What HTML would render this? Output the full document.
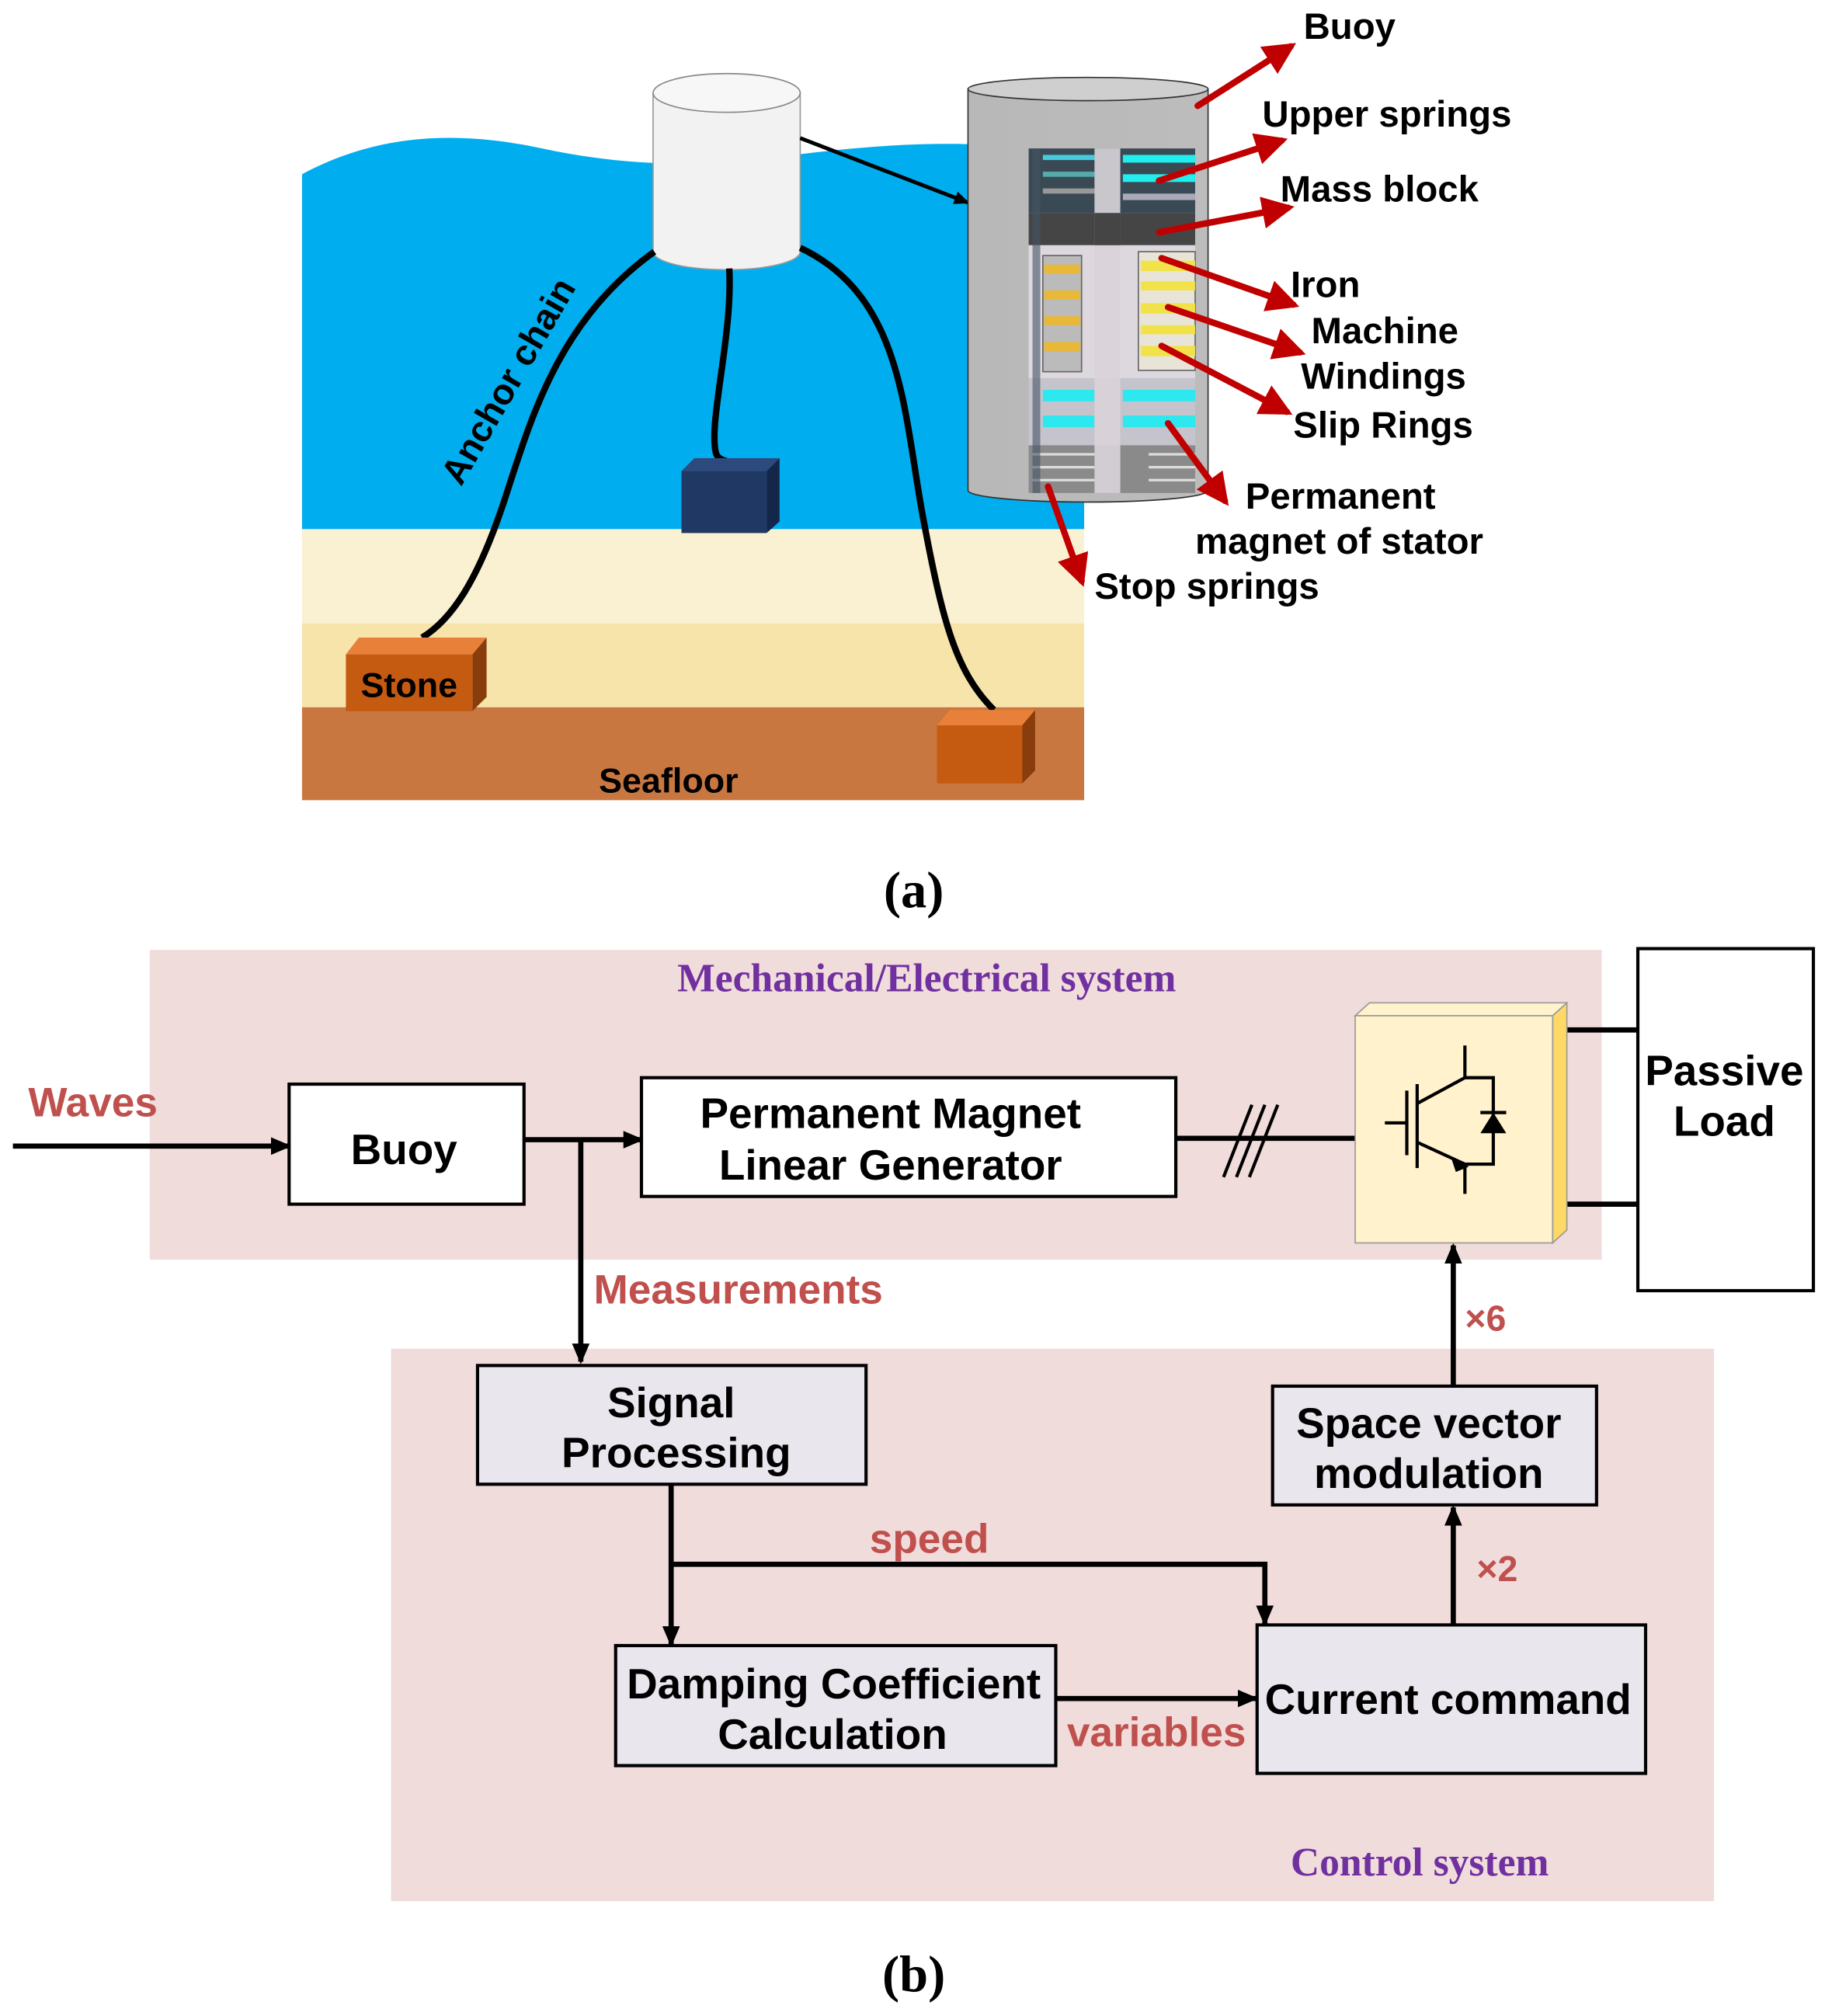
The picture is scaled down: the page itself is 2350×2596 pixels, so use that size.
<!DOCTYPE html>
<html><head><meta charset="utf-8"><style>
html,body{margin:0;padding:0;background:#fff;}
svg{display:block;}
text{font-family:"Liberation Sans",sans-serif;font-weight:bold;}
.s{font-family:"Liberation Serif",serif;}
</style></head><body>
<svg width="2350" height="2596" viewBox="0 0 1414 1562" preserveAspectRatio="none" xmlns="http://www.w3.org/2000/svg">
<defs>
<marker id="ra" markerWidth="5" markerHeight="5" refX="4" refY="2.5" orient="auto" markerUnits="strokeWidth"><path d="M0,0 L5,2.5 L0,5 Z" fill="#C00000"/></marker>
<marker id="ka" markerWidth="4" markerHeight="4" refX="3.5" refY="2" orient="auto" markerUnits="strokeWidth"><path d="M0,0.3 L4,2 L0,3.7 Z" fill="#000"/></marker>
<linearGradient id="cyl" x1="0" x2="1"><stop offset="0" stop-color="#b8b8b8"/><stop offset="1" stop-color="#bcbcbc"/></linearGradient>
</defs>
<!-- Part (a) -->
<path d="M234,135 C290,105 350,100 420,115 C480,128 540,130 600,122 C660,114 710,110 760,112 L840,112 L840,410 L234,410 Z" fill="#00AEEF"/>
<rect x="234" y="410" width="606" height="73" fill="#FAF0D2"/>
<rect x="234" y="483" width="606" height="65" fill="#F6E4AA"/>
<rect x="234" y="548" width="606" height="72" fill="#C87741"/>
<path d="M506,72 L506,195 A57,14 0 0 0 620,195 L620,72 Z" fill="#F2F2F2" stroke="#999" stroke-width="1"/>
<ellipse cx="563" cy="72" rx="57" ry="15" fill="#F7F7F7" stroke="#888" stroke-width="1"/>
<path d="M507,195 C430,250 410,330 390,390 C370,450 350,480 327,494" fill="none" stroke="#000" stroke-width="5"/>
<path d="M565,208 C568,260 548,330 555,352 C558,358 566,358 574,358" fill="none" stroke="#000" stroke-width="5"/>
<path d="M620,192 C700,230 700,320 715,400 C730,480 740,520 770,550" fill="none" stroke="#000" stroke-width="5"/>
<polygon points="528,365 538,355 604,355 594,365" fill="#2E4A7D"/>
<polygon points="594,365 604,355 604,404 594,413" fill="#14264A"/>
<rect x="528" y="365" width="66" height="48" fill="#1F3864"/>
<polygon points="268,507 278,494 377,494 366,507" fill="#E9803A"/>
<polygon points="366,507 377,494 377,540 366,551" fill="#8A3D0C"/>
<rect x="268" y="507" width="98" height="44" fill="#C55A11"/>
<polygon points="726,562 736,550 802,550 792,562" fill="#E9803A"/>
<polygon points="792,562 802,550 802,597 792,607" fill="#8A3D0C"/>
<rect x="726" y="562" width="66" height="45" fill="#C55A11"/>
<text x="317" y="540" font-size="27" text-anchor="middle">Stone</text>
<text x="518" y="614" font-size="27" text-anchor="middle">Seafloor</text>
<text x="0" y="0" font-size="28" transform="translate(402,300) rotate(-60)" text-anchor="middle">Anchor chain</text>
<line x1="620" y1="107" x2="750" y2="157" stroke="#000" stroke-width="3" marker-end="url(#ka)"/>
<path d="M750,69 L750,380 A93,9 0 0 0 936,380 L936,69 Z" fill="url(#cyl)" stroke="#333" stroke-width="1"/>
<ellipse cx="843" cy="69" rx="93" ry="9" fill="#cfcfcf" stroke="#333" stroke-width="1"/>
<g>
<rect x="797" y="115" width="129" height="267" fill="#cfcbd2"/>
<rect x="797" y="115" width="129" height="50" fill="#3a4a55"/>
<rect x="808" y="120" width="40" height="4" fill="#4cd"/><rect x="870" y="120" width="56" height="6" fill="#2ee"/>
<rect x="808" y="133" width="40" height="4" fill="#5aa"/><rect x="870" y="135" width="56" height="6" fill="#2ee"/>
<rect x="808" y="146" width="40" height="4" fill="#999"/><rect x="870" y="150" width="56" height="5" fill="#aab"/>
<rect x="797" y="165" width="129" height="25" fill="#454545"/>
<rect x="797" y="190" width="129" height="103" fill="#ddd8dd"/>
<rect x="808" y="198" width="30" height="90" fill="#bbb" stroke="#666" stroke-width="1"/>
<rect x="882" y="195" width="44" height="92" fill="#e8e4d8" stroke="#666" stroke-width="1"/>
<g fill="#E8B838"><rect x="809" y="205" width="28" height="7"/><rect x="809" y="225" width="28" height="7"/><rect x="809" y="245" width="28" height="7"/><rect x="809" y="265" width="28" height="7"/></g>
<g fill="#F2E24A"><rect x="884" y="202" width="42" height="8"/><rect x="884" y="218" width="42" height="7"/><rect x="884" y="235" width="42" height="8"/><rect x="884" y="252" width="42" height="7"/><rect x="884" y="268" width="42" height="8"/></g>
<rect x="797" y="293" width="129" height="52" fill="#c5c3cc"/>
<g fill="#2EE8F0"><rect x="808" y="302" width="40" height="9"/><rect x="870" y="302" width="56" height="9"/><rect x="808" y="322" width="40" height="9"/><rect x="870" y="322" width="56" height="9"/></g>
<rect x="797" y="345" width="129" height="37" fill="#8a8a8a"/>
<g stroke="#ddd" stroke-width="2"><line x1="800" y1="352" x2="848" y2="352"/><line x1="800" y1="362" x2="848" y2="362"/><line x1="800" y1="372" x2="848" y2="372"/><line x1="890" y1="352" x2="926" y2="352"/><line x1="890" y1="362" x2="926" y2="362"/><line x1="890" y1="372" x2="926" y2="372"/></g>
<rect x="848" y="115" width="20" height="267" fill="#d9d4d9" opacity="0.9"/>
<rect x="848" y="165" width="20" height="25" fill="#454545"/>
<rect x="800" y="115" width="6" height="267" fill="#456" opacity="0.6"/>
</g>
<g stroke="#C00000" stroke-width="5" stroke-linecap="round" marker-end="url(#ra)">
<line x1="928" y1="82" x2="1000" y2="36"/>
<line x1="898" y1="140" x2="993" y2="109"/>
<line x1="898" y1="180" x2="998" y2="161"/>
<line x1="900" y1="200" x2="1002" y2="236"/>
<line x1="905" y1="238" x2="1007" y2="273"/>
<line x1="900" y1="268" x2="997" y2="319"/>
<line x1="905" y1="328" x2="949" y2="388"/>
<line x1="812" y1="377" x2="838" y2="450"/>
</g>
<g font-size="28.5">
<text x="1010" y="30">Buoy</text>
<text x="978" y="98">Upper springs</text>
<text x="992" y="156">Mass block</text>
<text x="1000" y="230">Iron</text>
<text x="1016" y="266">Machine</text>
<text x="1008" y="301">Windings</text>
<text x="1002" y="339">Slip Rings</text>
<text x="965" y="394">Permanent</text>
<text x="926" y="429">magnet of stator</text>
<text x="848" y="464">Stop springs</text>
</g>
<text class="s" x="708" y="703" font-size="40" text-anchor="middle">(a)</text>
<!-- Part (b) -->
<rect x="116" y="736" width="1125" height="240" fill="#F0DCDA"/>
<rect x="303" y="1045" width="1025" height="428" fill="#F0DCDA"/>
<text class="s" x="718" y="768" font-size="31" fill="#7030A0" text-anchor="middle">Mechanical/Electrical system</text>
<text class="s" x="1100" y="1453" font-size="31" fill="#7030A0" text-anchor="middle">Control system</text>
<g fill="#C0504D" font-size="32">
<text x="72" y="865" text-anchor="middle">Waves</text>
<text x="460" y="1010">Measurements</text>
<text x="720" y="1203" text-anchor="middle">speed</text>
<text x="896" y="1353" text-anchor="middle">variables</text>
<text x="1151" y="1031" text-anchor="middle" font-size="28">×6</text>
<text x="1160" y="1225" text-anchor="middle" font-size="28">×2</text>
</g>
<g stroke="#000" stroke-width="4" fill="none">
<line x1="10" y1="888" x2="224" y2="888" marker-end="url(#ka)"/>
<line x1="406" y1="883" x2="497" y2="883" marker-end="url(#ka)"/>
<line x1="450" y1="883" x2="450" y2="1055" marker-end="url(#ka)"/>
<line x1="911" y1="882" x2="1050" y2="882"/>
<line x1="1214" y1="798" x2="1269" y2="798"/>
<line x1="1214" y1="933" x2="1269" y2="933"/>
<line x1="520" y1="1150" x2="520" y2="1274" marker-end="url(#ka)"/>
<polyline points="520,1212 980,1212 980,1258" marker-end="url(#ka)"/>
<line x1="818" y1="1316" x2="973" y2="1316" marker-end="url(#ka)"/>
<line x1="1126" y1="1259" x2="1126" y2="1168" marker-end="url(#ka)"/>
<line x1="1126" y1="1074" x2="1126" y2="965" marker-end="url(#ka)"/>
</g>
<g stroke="#000" stroke-width="2.5"><line x1="948" y1="912" x2="970" y2="856"/><line x1="958" y1="912" x2="980" y2="856"/><line x1="968" y1="912" x2="990" y2="856"/></g>
<g stroke="#000" stroke-width="2.5" fill="#fff">
<rect x="224" y="840" width="182" height="93"/>
<rect x="497" y="835" width="414" height="92"/>
<rect x="1269" y="735" width="136" height="265"/>
</g>
<g stroke="#000" stroke-width="2.5" fill="#EAE6EE">
<rect x="370" y="1058" width="301" height="92"/>
<rect x="477" y="1275" width="341" height="93"/>
<rect x="974" y="1259" width="301" height="115"/>
<rect x="986" y="1074" width="251" height="92"/>
</g>
<polygon points="1050,787 1061,777 1214,777 1203,787" fill="#FFF2CC" stroke="#999" stroke-width="1"/>
<polygon points="1203,787 1214,777 1214,953 1203,963" fill="#FFD966" stroke="#999" stroke-width="1"/>
<rect x="1050" y="787" width="153" height="176" fill="#FFF2CC" stroke="#999" stroke-width="1"/>
<g stroke="#000" stroke-width="2.5" fill="none">
<line x1="1073" y1="870" x2="1090" y2="870"/>
<line x1="1090" y1="845" x2="1090" y2="895"/>
<line x1="1098" y1="840" x2="1098" y2="905"/>
<polyline points="1098,855 1135,835 1135,810"/>
<polyline points="1098,885 1135,902 1135,925"/>
<polyline points="1135,835 1157,835 1157,902 1135,902"/>
<line x1="1147" y1="862" x2="1167" y2="862"/>
</g>
<polygon points="1147,878 1167,878 1157,862" fill="#000"/>
<polygon points="1124,896 1138,904 1128,908" fill="#000"/>
<g font-size="33" text-anchor="middle">
<text x="313" y="902">Buoy</text>
<text x="690" y="874">Permanent Magnet</text>
<text x="690" y="914">Linear Generator</text>
<text x="1336" y="841">Passive</text>
<text x="1336" y="880">Load</text>
<text x="520" y="1098">Signal</text>
<text x="524" y="1137">Processing</text>
<text x="646" y="1316">Damping Coefficient</text>
<text x="645" y="1355">Calculation</text>
<text x="1122" y="1328">Current command</text>
<text x="1107" y="1114">Space vector</text>
<text x="1107" y="1153">modulation</text>
</g>
<text class="s" x="708" y="1543" font-size="40" text-anchor="middle">(b)</text>
</svg>
</body></html>
